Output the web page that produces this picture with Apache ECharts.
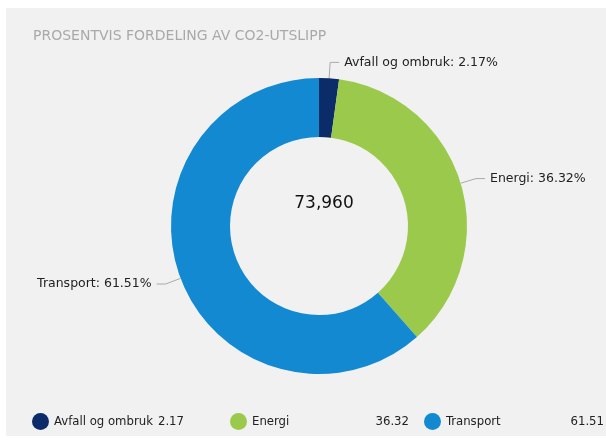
<!DOCTYPE html>
<html>
<head>
<meta charset="utf-8">
<script src="https://cdn.jsdelivr.net/npm/echarts@6/dist/echarts.min.js"></script>
<style>
  html, body { margin: 0; padding: 0; background: #fff; }
  #chart { position: absolute; left: 6px; top: 8px; width: 600px; height: 428px; background: #f1f1f1; }
</style>
</head>
<body>
<div id="chart"></div>
<script>
const categories = ['Avfall og ombruk', 'Energi', 'Transport'];
const shares = [2.17, 36.32, 61.51];
const total = '73,960';
const colors = ['#0b2b69', '#9bc94b', '#1289d1'];

const chartDom = echarts.init(document.getElementById('chart'));
const font = 'DejaVu Sans Condensed';
// legend layout: one legend block per category
const legendLeft = [21, 219, 413];
const valueWidths = [30, 57, 58];

const rich = {
  n: { width: 100, fontFamily: font, fontSize: 13, color: '#222' }
};
valueWidths.forEach((w, i) => {
  rich['v' + i] = { width: w, align: 'right', fontFamily: font, fontSize: 13, color: '#222' };
});

const legends = categories.map((c, i) => ({
  bottom: 1,
  left: legendLeft[i],
  icon: 'circle',
  itemWidth: 17,
  itemHeight: 17,
  data: [c],
  formatter: function (name) {
    const k = categories.indexOf(name);
    return '{n|' + name + '}{v' + k + '|' + shares[k].toFixed(2) + '}';
  },
  textStyle: { fontFamily: font, color: '#222', fontSize: 13, rich: rich }
}));

chartDom.setOption({
  backgroundColor: '#f1f1f1',
  color: colors,
  title: [
    {
      text: 'PROSENTVIS FORDELING AV CO2-UTSLIPP',
      left: 22,
      top: 16,
      textStyle: { color: '#a9a9a9', fontSize: 14, fontWeight: 'normal', fontFamily: 'DejaVu Sans' }
    },
    {
      text: total,
      left: 313,
      top: 182,
      textAlign: 'center',
      textStyle: { color: '#111', fontSize: 17, fontWeight: 'normal', fontFamily: 'DejaVu Sans' }
    }
  ],
  legend: legends,
  series: [
    {
      type: 'pie',
      center: [313, 218],
      radius: [89, 148],
      startAngle: 90,
      clockwise: true,
      avoidLabelOverlap: true,
      data: categories.map((c, i) => ({ name: c, value: shares[i] })),
      label: {
        formatter: function (p) { return p.name + ': ' + shares[p.dataIndex].toFixed(2) + '%'; },
        color: '#222',
        fontSize: 12.5,
        fontFamily: 'DejaVu Sans'
      },
      labelLine: {
        length: 16,
        length2: 9,
        lineStyle: { color: '#aaa', width: 1 }
      },
      emphasis: { scale: false }
    }
  ]
});
</script>
</body>
</html>
